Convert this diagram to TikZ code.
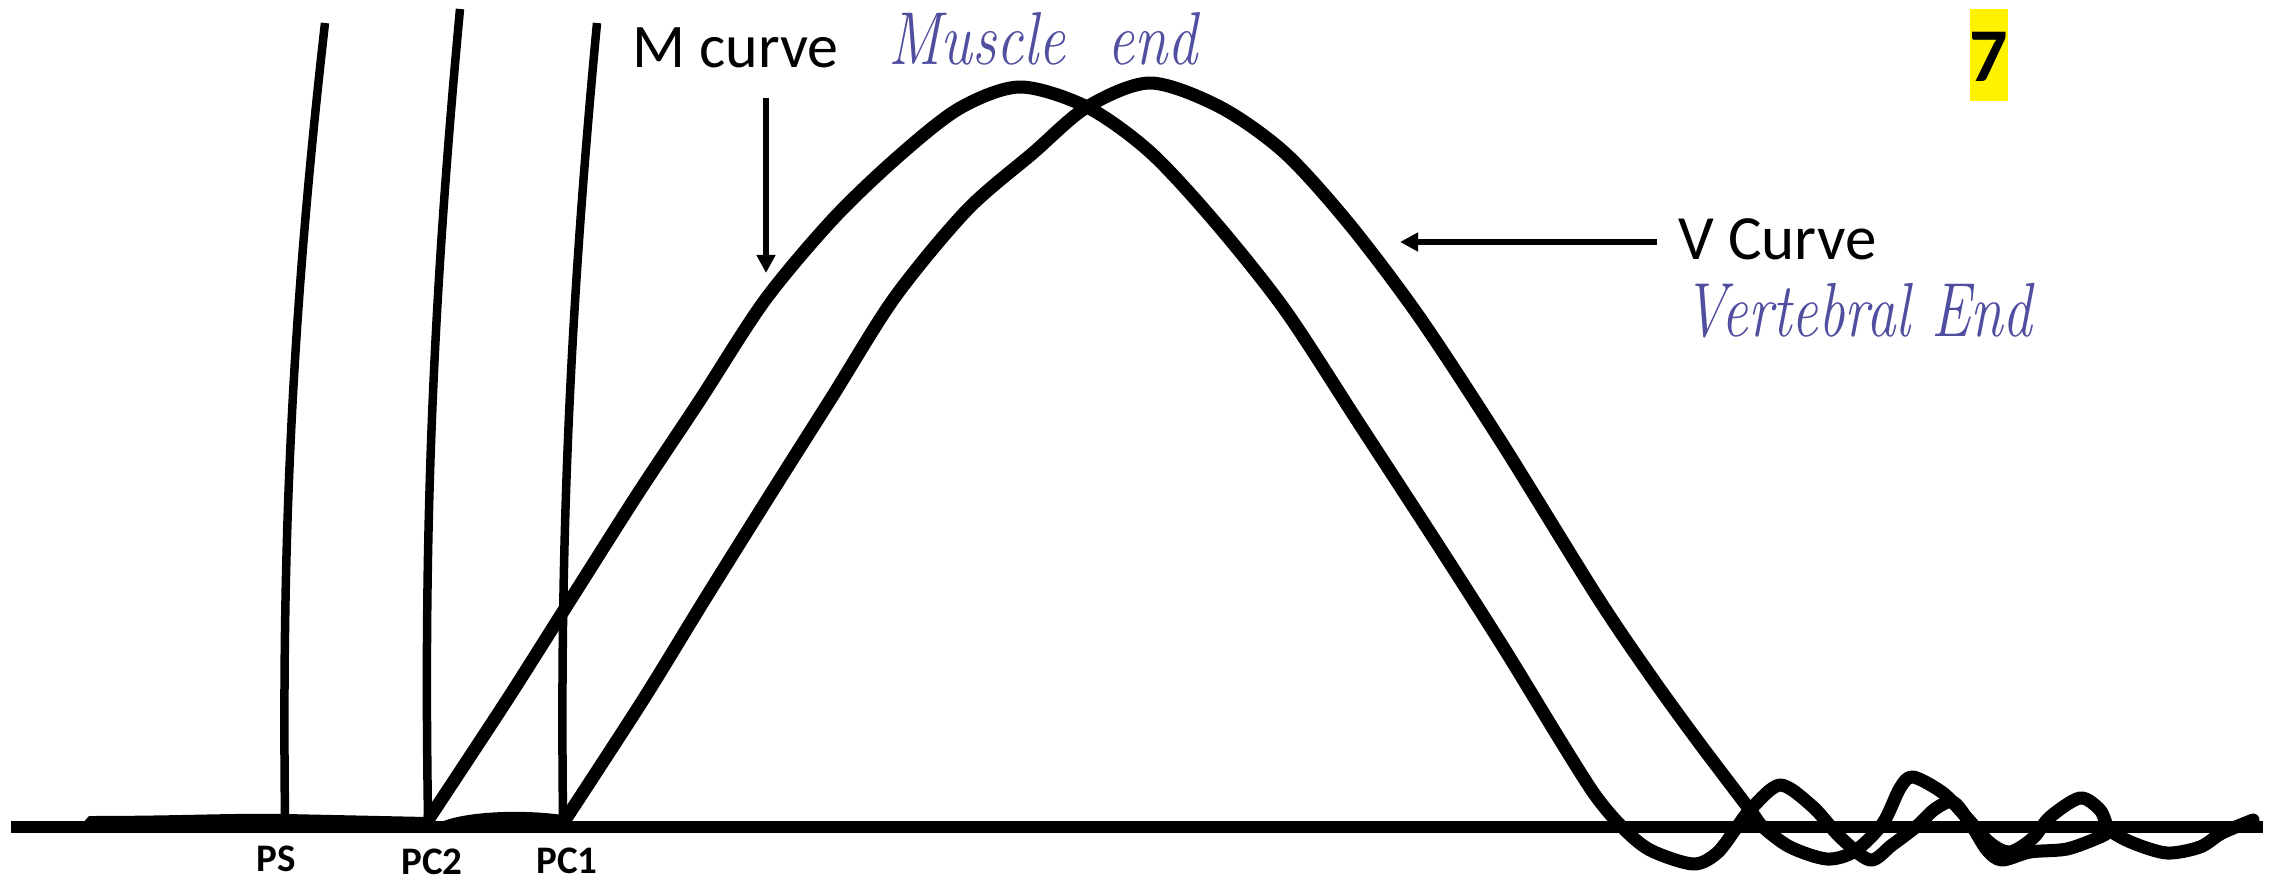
\documentclass[tikz,border=0pt]{standalone}
\usepackage{fontspec}
\newfontfamily\calfont{Carlito}
\usetikzlibrary{arrows.meta}
\definecolor{ink}{RGB}{80,78,158}
\begin{document}
\begin{tikzpicture}[x=1pt,y=-1pt,
  curve/.style={line width=13pt, line join=round, line cap=round},
  stem/.style={line width=8.5pt},
  pointer/.style={line width=6.5pt, -{Triangle[length=18pt,width=18pt]}},
  lbl/.style={inner sep=0pt, font=\calfont\fontsize{62}{74}\selectfont},
  tag/.style={inner sep=0pt, font=\calfont\bfseries\fontsize{39}{47}\selectfont},
  hand/.style={inner sep=0pt, text=ink, font=\itshape\fontsize{60}{72}\selectfont}]
\useasboundingbox (0,0) rectangle (2275,882);

% base line and small thickenings
\draw[line width=12.5pt] (11,827) -- (2263,827);
\fill (74,833) -- (89,816) .. controls (180,816) and (230,813) .. (286,814) -- (427,817) -- (427,828) -- (74,828) -- cycle;
\fill (441,822) .. controls (470,810) and (530,810) .. (562,815) -- (562,827) -- (441,827) -- cycle;

% vertical lines
\draw[stem] (325,23) .. controls (290,330) and (282,560) .. (285,817);
\draw[stem] (460,9) .. controls (430,330) and (424,560) .. (428,817);
\draw[stem] (597,23) .. controls (568,330) and (560,560) .. (563,817);

% M curve
\draw[curve] plot[smooth, tension=0.5] coordinates {
 (430,817) (507,700) (571,599) (637,495) (700,400) (765,300) (834,218) (900,155)
 (960,108) (1020,87) (1087,107) (1150,152) (1215,222) (1285,310) (1360,425)
 (1440,548) (1505,650) (1560,740) (1595,795) (1622,827) (1650,850) (1693,864)
 (1717,853) (1737,827) (1750,810) (1780,785) (1813,807) (1840,837) (1870,860)
 (1892,845) (1917,826) (1935,809) (1953,802) (1970,823) (1987,850) (2002,860)
 (2030,852) (2067,849) (2100,837) (2110,831)};

% V curve
\draw[curve] plot[smooth, tension=0.5] coordinates {
 (567,817) (643,700) (705,599) (770,495) (832,397) (895,297) (967,210) (1033,153)
 (1087,107) (1150,83) (1220,107) (1285,153) (1350,225) (1420,318) (1500,440)
 (1596,595) (1650,675) (1697,740) (1750,810) (1763,827) (1790,847) (1827,859)
 (1855,851) (1883,823) (1900,788) (1913,777) (1943,793) (1967,818) (1990,843)
 (2010,852) (2033,838) (2050,817) (2080,798) (2100,810) (2110,830) (2133,843)
 (2167,853) (2200,847) (2222,833) (2253,820)};

% labels
\node[tag, anchor=base] (ps)  at (276,871) {PS};
\node[tag, anchor=base] (pc2) at (432,874) {PC2};
\node[tag, anchor=base] (pc1) at (567,873) {PC1};

\node[lbl, anchor=base west] (mc) at (632,68) {M curve};
\node[lbl, anchor=base west, font=\calfont\fontsize{63}{75}\selectfont] (vc) at (1678,260) {V Curve};

\coordinate (mfrom) at (766,98);
\coordinate (mto) at (766,273);
\draw[pointer] (mfrom) -- (mto);
\coordinate (vfrom) at (1657,242);
\coordinate (vto) at (1400,242);
\draw[pointer] (vfrom) -- (vto);

\node[hand, anchor=base west] (muscle) at (888,65) {\scalebox{1}[1.25]{Muscle\ \ end}};
\node[hand, anchor=base west, font=\itshape\fontsize{59}{70}\selectfont] (vert) at (1683,337) {\scalebox{1}[1.3]{Vertebral\ End}};

% page number
\fill[yellow] (1970,9) rectangle (2008,101);
\node[inner sep=0pt, anchor=base, font=\calfont\bfseries\fontsize{76}{91}\selectfont] (num) at (1989,82) {7};
\end{tikzpicture}
\end{document}
